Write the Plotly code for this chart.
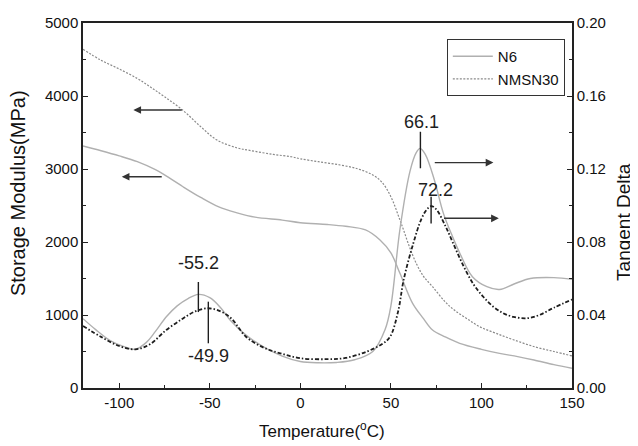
import plotly.graph_objects as go

# ---- data ----
n6_e_T = [-120, -110, -100, -90, -80, -75, -65, -55, -45, -35, -25, -10, 0, 15, 25, 36, 44, 50, 55, 62, 68, 73, 80, 88, 100, 110, 120, 129, 140, 150]
n6_e = [3315, 3250, 3180, 3100, 2990, 2920, 2760, 2610, 2480, 2400, 2340, 2300, 2264, 2240, 2215, 2165, 2027, 1850, 1571, 1160, 950, 795, 700, 612, 530, 475, 430, 384, 320, 270]

nm_e_T = [-120, -110, -100, -90, -83, -75, -65, -55, -46, -35, -28, -15, -5, 0, 10, 22, 32, 40, 45, 50, 55, 57, 60, 64, 68, 73, 80, 85, 92, 99, 108, 118, 130, 140, 150]
nm_e = [4640, 4490, 4370, 4240, 4127, 3990, 3808, 3580, 3397, 3290, 3255, 3200, 3168, 3140, 3100, 3055, 3000, 2918, 2820, 2621, 2300, 2164, 1950, 1708, 1530, 1388, 1180, 1068, 950, 840, 750, 658, 560, 500, 440]

n6_t_T = [-120, -113, -105, -97, -91, -85, -80, -74, -68, -62, -56.3, -50, -44, -38.8, -30, -20.4, -10, 0, 10, 20, 30, 40, 46.8, 50, 55, 60.6, 64, 66.1, 69, 74, 79, 84, 88, 95, 103, 110, 118, 127, 140, 150]
n6_t = [0.038, 0.032, 0.026, 0.0225, 0.0212, 0.025, 0.031, 0.039, 0.045, 0.049, 0.0513, 0.0495, 0.044, 0.0373, 0.029, 0.0226, 0.0175, 0.0145, 0.0138, 0.014, 0.0155, 0.020, 0.032, 0.045, 0.087, 0.119, 0.129, 0.1313, 0.128, 0.114, 0.0957, 0.083, 0.074, 0.061, 0.0555, 0.054, 0.057, 0.060, 0.0605, 0.0595]

nm_t_T = [-120, -110, -100, -91, -83, -74, -65, -58, -50.8, -44, -38, -30, -20, -11, 0, 15, 25, 36.6, 45, 49.5, 54, 57, 62, 67, 70, 72.2, 75, 80, 84.5, 90, 95.5, 101, 106.6, 112, 117.6, 125, 132, 140, 150]
nm_t = [0.034, 0.028, 0.023, 0.0212, 0.024, 0.0318, 0.038, 0.042, 0.0437, 0.042, 0.038, 0.0281, 0.022, 0.019, 0.0163, 0.0158, 0.0165, 0.0199, 0.024, 0.028, 0.042, 0.059, 0.078, 0.093, 0.098, 0.0997, 0.098, 0.089, 0.079, 0.067, 0.057, 0.050, 0.0445, 0.041, 0.039, 0.0382, 0.040, 0.044, 0.0485]

x_ticks = [-100, -50, 0, 50, 100, 150]
x_labels = ["-100", "-50", "0", "50", "100", "150"]
y_ticks = [0, 1000, 2000, 3000, 4000, 5000]
y2_ticks = [0.00, 0.04, 0.08, 0.12, 0.16, 0.20]
y2_labels = ["0.00", "0.04", "0.08", "0.12", "0.16", "0.20"]

FONT = "Liberation Sans, Arial, sans-serif"
LIGHT = "#b0b0b0"
MID = "#8a8a8a"
DARK = "#1e1e1e"

fig = go.Figure()
fig.add_trace(go.Scatter(x=n6_e_T, y=n6_e, mode="lines", name="N6", line=dict(color=LIGHT, width=1.4, shape="spline")))
fig.add_trace(go.Scatter(x=nm_e_T, y=nm_e, mode="lines", name="NMSN30", line=dict(color=MID, width=1.2, dash="2px,1.5px", shape="spline")))
fig.add_trace(go.Scatter(x=n6_t_T, y=n6_t, mode="lines", yaxis="y2", showlegend=False, line=dict(color=LIGHT, width=1.4, shape="spline")))
fig.add_trace(go.Scatter(x=nm_t_T, y=nm_t, mode="lines", yaxis="y2", showlegend=False, line=dict(color=DARK, width=1.8, dash="4px,2px,1.5px,2px", shape="spline")))

# peak marker lines
for x0, y0, y1 in [(-56.3, 0.0416, 0.0581), (-50.8, 0.0245, 0.0473), (66.3, 0.1204, 0.1404), (72.2, 0.0902, 0.1048)]:
    fig.add_shape(type="line", xref="x", yref="y2", x0=x0, x1=x0, y0=y0, y1=y1, line=dict(color=DARK, width=1.4))

labels = [("-55.2", -56.3, 0.0685), ("-49.9", -50.9, 0.0175), ("66.1", 67.0, 0.1459), ("72.2", 74.4, 0.1085)]
for txt, x, y in labels:
    fig.add_annotation(x=x, y=y, xref="x", yref="y2", text=txt, showarrow=False, font=dict(family=FONT, size=18, color=DARK))

# arrows
arrows = [
    (106.6, 0.1235, 73.4, 0.1235, "y2"),
    (109.6, 0.093, 78.5, 0.093, "y2"),
    (-92.2, 3808, -64.6, 3808, "y"),
    (-98.6, 2894, -75.7, 2894, "y"),
]
for x, y, ax, ay, yr in arrows:
    fig.add_annotation(x=x, y=y, ax=ax, ay=ay, xref="x", yref=yr, axref="x", ayref=yr, text="",
                       showarrow=True, arrowhead=2, arrowsize=1.1, arrowwidth=1.4, arrowcolor="#333")

# axis titles
fig.add_annotation(xref="paper", yref="paper", x=0, y=0.534, xshift=-65, xanchor="center", yanchor="middle",
                   textangle=-90, showarrow=False,
                   text="Storage Modulus(MPa)", font=dict(family=FONT, size=20, color="#111"))
fig.add_annotation(xref="paper", yref="paper", x=1, y=0.455, xshift=52, xanchor="center", yanchor="middle",
                   textangle=-90, showarrow=False,
                   text="Tangent Delta", font=dict(family=FONT, size=19, color="#111"))
fig.add_annotation(xref="paper", yref="paper", x=0.489, y=0, yshift=-42, xanchor="center", yanchor="middle",
                   showarrow=False,
                   text="Temperature(<sup>o</sup>C)", font=dict(family=FONT, size=17, color="#111"))

axis_common = dict(showgrid=False, zeroline=False, linecolor="#222", linewidth=1.5, automargin=False,
                   ticks="inside", ticklen=5, tickwidth=1.3, tickcolor="#222",
                   tickfont=dict(family=FONT, size=15, color="#111"))

# page body adds an 8px offset, so the figure is 630x438
fig.update_layout(
    width=630, height=438,
    margin=dict(l=75, r=66, t=15, b=58),
    paper_bgcolor="white", plot_bgcolor="white",
    font=dict(family=FONT),
    xaxis=dict(range=[-120, 150], tickvals=x_ticks, ticktext=x_labels, mirror=True,
               minor=dict(dtick=25, ticks="inside", ticklen=3, tickcolor="#222"),
               **axis_common),
    yaxis=dict(range=[0, 5000], tickvals=y_ticks, mirror=True,
               minor=dict(dtick=500, ticks="inside", ticklen=3, tickcolor="#222"),
               **axis_common),
    yaxis2=dict(range=[0, 0.2], tickvals=y2_ticks, ticktext=y2_labels, overlaying="y", side="right",
                minor=dict(dtick=0.02, ticks="inside", ticklen=3, tickcolor="#222"),
                **axis_common),
    legend=dict(x=0.744, y=0.956, xanchor="left", yanchor="top", bgcolor="white",
                bordercolor="#333", borderwidth=1, font=dict(family=FONT, size=15, color="#111"),
                tracegroupgap=0, itemwidth=40),
    showlegend=True,
)

fig.write_html("out.html")
